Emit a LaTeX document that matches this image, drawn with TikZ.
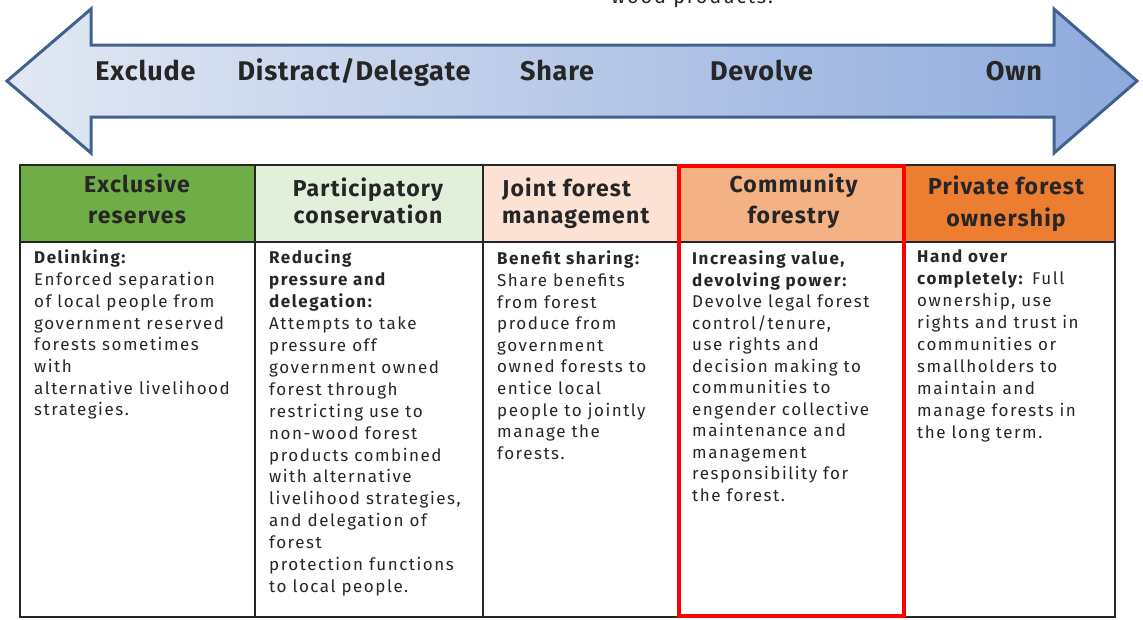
\documentclass[tikz,border=0pt]{standalone}
\usepackage{fontspec}
\setmainfont{Fira Sans}
\newfontfamily\arrowfont{Fira Sans}[LetterSpace=3]
\newfontfamily\hdrfont{Fira Sans}[LetterSpace=5]
\newfontfamily\bodyfont{Fira Sans}[LetterSpace=9]
\definecolor{txt}{HTML}{262626}
\definecolor{arrowedge}{HTML}{41628E}
\definecolor{arrowL}{HTML}{E2E8F4}
\definecolor{arrowR}{HTML}{8EAADC}
\definecolor{cA}{HTML}{70AD47}
\definecolor{cB}{HTML}{E2EFDA}
\definecolor{cC}{HTML}{FBE2D5}
\definecolor{cD}{HTML}{F4B183}
\definecolor{cE}{HTML}{ED7D31}
\definecolor{hl}{HTML}{FF0000}
\tikzset{
  arrowlbl/.style={anchor=base, inner sep=0pt, text=txt, font=\arrowfont\bfseries\fontsize{27}{32}\selectfont},
  hdr/.style={anchor=base, inner sep=0pt, text=txt, font=\hdrfont\bfseries\fontsize{23}{28}\selectfont},
  bodytxt/.style={anchor=north west, inner sep=0pt, align=left, text=txt, font=\bodyfont\fontsize{17}{#1}\selectfont},
  bodytxt/.default=21.7,
  grid/.style={draw=txt, line width=2pt},
  redbox/.style={draw=hl, line width=4pt}
}
\begin{document}
\begin{tikzpicture}[x=1pt,y=-1pt]
\useasboundingbox (0,0) rectangle (1143,619);
% text cut by the top edge, as in the reference
\begin{scope}
\clip (0,0) rectangle (1143,619);
\node[anchor=base, inner sep=0pt, text=txt, font=\bodyfont\fontsize{20}{24}\selectfont] (top) at (692,3) {wood products.};
\end{scope}
% double arrow
\path[draw=arrowedge, line width=3pt, line join=miter, left color=arrowL, right color=arrowR]
  (7,81) -- (91,9) -- (91,45) -- (1054,45) -- (1054,9) -- (1137,81)
  -- (1054,153) -- (1054,117) -- (91,117) -- (91,153) -- cycle;
\node[arrowlbl] (l1) at (145.5,80) {Exclude};
\node[arrowlbl] (l2) at (354,80) {Distract/Delegate};
\node[arrowlbl] (l3) at (557,80) {Share};
\node[arrowlbl] (l4) at (761.5,80) {Devolve};
\node[arrowlbl] (l5) at (1014,80) {Own};
% header fills
\fill[cA] (20,165) rectangle (255,242);
\fill[cB] (255,165) rectangle (483,242);
\fill[cC] (483,165) rectangle (678,242);
\fill[cD] (678,165) rectangle (905,242);
\fill[cE] (905,165) rectangle (1115,242);
% grid
\draw[grid] (20,165) rectangle (1115,617);
\draw[grid] (20,242) -- (1115,242);
\draw[grid] (255,165) -- (255,617);
\draw[grid] (483,165) -- (483,617);
\draw[redbox] (679,166) rectangle (904,616);
% headers
\node[hdr] (h1a) at (137,192) {Exclusive};
\node[hdr] (h1b) at (137,223) {reserves};
\node[hdr] (h2a) at (368,196) {Participatory};
\node[hdr] (h2b) at (368,223) {conservation};
\node[hdr, anchor=base west] (h3a) at (502,196) {Joint forest};
\node[hdr, anchor=base west] (h3b) at (502,223) {management};
\node[hdr] (h4a) at (793.5,192) {Community};
\node[hdr] (h4b) at (793.5,223) {forestry};
\node[hdr] (h5a) at (1006,194) {Private forest};
\node[hdr] (h5b) at (1006,226) {ownership};
% bodies
\node[bodytxt] (b1) at (34,250) {\textbf{Delinking:}\\
Enforced separation\\
of local people from\\
government reserved\\
forests sometimes\\
with\\
alternative livelihood\\
strategies.};
\node[bodytxt=21.9] (b2) at (269,250) {\textbf{Reducing}\\
\textbf{pressure and}\\
\textbf{delegation:}\\
Attempts to take\\
pressure off\\
government owned\\
forest through\\
restricting use to\\
non-wood forest\\
products combined\\
with alternative\\
livelihood strategies,\\
and delegation of\\
forest\\
protection functions\\
to local people.};
\node[bodytxt=21.6] (b3) at (497,251) {\textbf{Benefit sharing:}\\
Share benefits\\
from forest\\
produce from\\
government\\
owned forests to\\
entice local\\
people to jointly\\
manage the\\
forests.};
\node[bodytxt=21.5] (b4) at (692,251) {\textbf{Increasing value,}\\
\textbf{devolving power:}\\
Devolve legal forest\\
control/tenure,\\
use rights and\\
decision making to\\
communities to\\
engender collective\\
maintenance and\\
management\\
responsibility for\\
the forest.};
\node[bodytxt=22.1] (b5) at (917,249) {\textbf{Hand over}\\
\textbf{completely:} Full\\
ownership, use\\
rights and trust in\\
communities or\\
smallholders to\\
maintain and\\
manage forests in\\
the long term.};
\end{tikzpicture}
\end{document}
